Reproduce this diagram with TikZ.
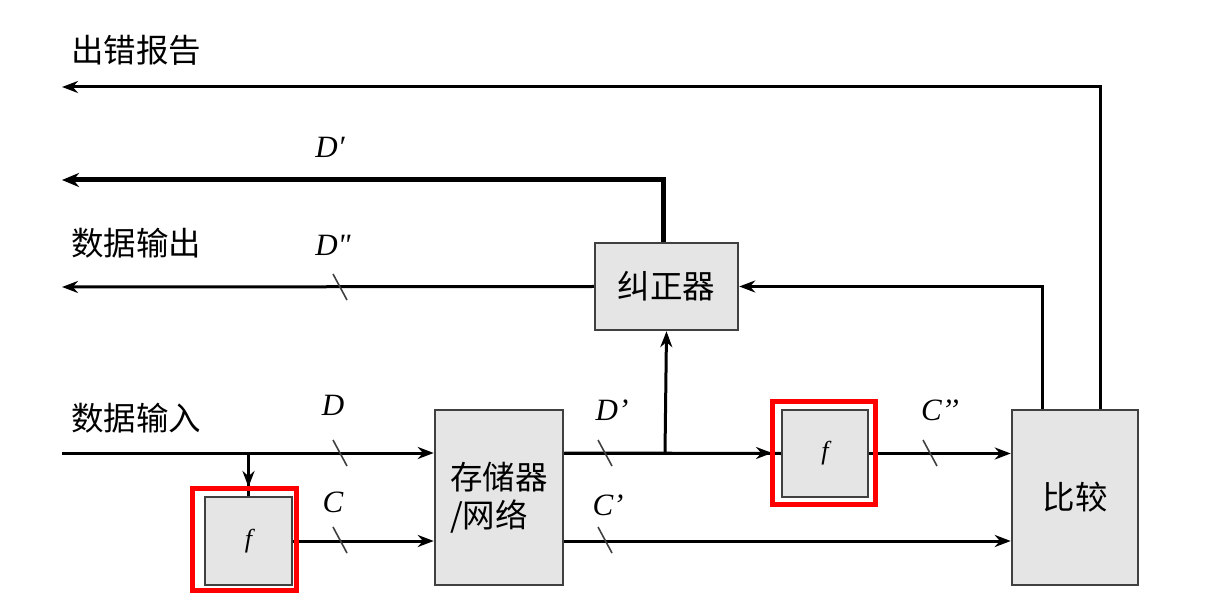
\RequirePackage{fix-cm}
\documentclass[tikz,border=0pt]{standalone}
\usepackage{fontspec}
\newfontfamily\cjk{Noto Sans CJK SC}
\newfontfamily\lserif{Liberation Serif}
\usetikzlibrary{arrows.meta}
\begin{document}
\begin{tikzpicture}[x=1pt,y=-1pt,
  box/.style={draw=black!75,fill=black!10,line width=2.5pt,inner sep=0pt,
    font=\cjk\fontsize{32.5}{38}\selectfont},
  redframe/.style={draw=red,line width=4.5pt,inner sep=0pt,fill=none},
  conn/.style={line width=3pt,-{Stealth[length=16pt,width=12pt]}},
  plain/.style={line width=3pt},
  thickconn/.style={line width=5pt,-{Stealth[length=17pt,width=14pt]}},
  slashmark/.style={line width=1.6pt,black!75},
  lbl/.style={font=\cjk\fontsize{32.5}{38}\selectfont,anchor=west,inner sep=0pt},
  mlbl/.style={font=\lserif\itshape\fontsize{31}{36}\selectfont,inner sep=0pt},
  flbl/.style={font=\lserif\itshape\fontsize{26}{30}\selectfont}]
\useasboundingbox (0,0) rectangle (1210,609);
\fill[white] (0,0) rectangle (1210,609);

% boxes
\node[box,minimum width=143pt,minimum height=87pt] (corr) at (666.5,286.5) {纠正器};
\node[box,minimum width=128pt,minimum height=175pt,align=left] (mem) at (499,497.5) {存储器\\/网络};
\node[box,minimum width=126pt,minimum height=175pt] (cmp) at (1075,497.5) {比较};
\node[box,minimum width=87pt,minimum height=88pt] (f1) at (248.5,541) {};
\node[box,minimum width=86pt,minimum height=87pt] (f2) at (825,453.5) {};
\node[flbl] at (f1) {f};
\node[flbl] at (f2) {f};

% text labels
\node[lbl] (t1) at (71,50) {出错报告};
\node[lbl] (t2) at (71,243) {数据输出};
\node[lbl] (t3) at (71,418) {数据输入};

% coordinates
\coordinate (errL) at (62,87);
\coordinate (dpL) at (62,180);
\coordinate (doL) at (62,287);
\coordinate (inL) at (62,453);
\coordinate (j1) at (248.5,453);
\coordinate (j2) at (665,453);
\coordinate (redTop) at (248.5,487);
\coordinate (redLeft) at (772,453);

% connectors
\draw[conn] ([xshift=25pt]cmp.north) |- (errL);
\draw[conn] ([xshift=-33pt]cmp.north) |- (corr.east);
\draw[thickconn] ([xshift=-3.5pt]corr.north) |- (dpL);
\draw[conn] (corr.west) -- (doL);
\draw[conn] (inL) -- (mem.west |- inL);
\draw[plain] (j1) -- (f1.north);
\draw[conn] (j1) -- (redTop);
\draw[conn] (f1.east) -- (mem.west |- f1.east);
\draw[plain] (mem.east |- inL) -- (f2.west);
\draw[conn] (mem.east |- inL) -- (redLeft);
\draw[conn] (j2) -- (corr.south);
\draw[conn] (f2.east) -- (cmp.west |- f2.east);
\draw[conn] (mem.east |- f1.east) -- (cmp.west |- f1.east);

% red frames
\node[redframe,minimum width=104pt,minimum height=102pt] (r1) at (244.5,539.5) {};
\node[redframe,minimum width=103pt,minimum height=103pt] (r2) at (824,453) {};

% bus slashes
\foreach \x/\y in {340/287,340/453,340/540,605/453,605/540,930/453}
  \draw[slashmark] (\x-7,\y-13) -- (\x+7,\y+13);

% labels
\node[mlbl] at (330,147) {D′};
\node[mlbl] at (333,245) {D"};
\node[mlbl] at (333,405) {D};
\node[mlbl] at (333,502) {C};
\node[mlbl] at (612,410) {D’};
\node[mlbl] at (608,505) {C’};
\node[mlbl] at (940,410) {C’’};
\end{tikzpicture}
\end{document}
